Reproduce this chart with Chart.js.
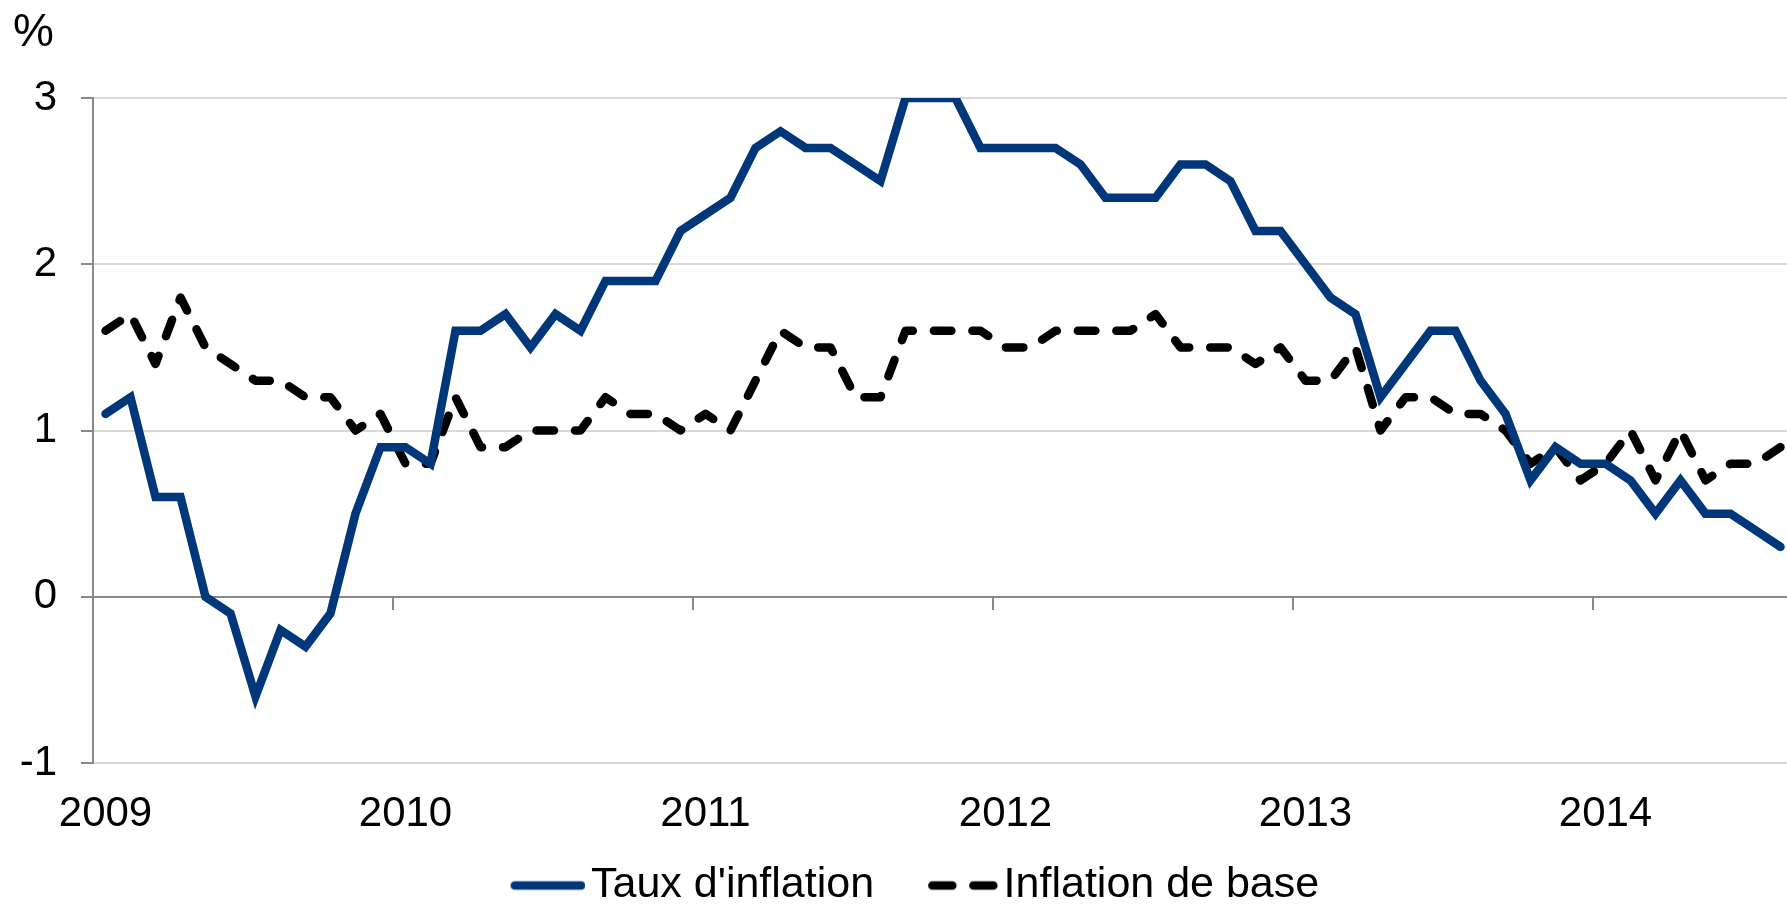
<!DOCTYPE html>
<html>
<head>
<meta charset="utf-8">
<script src="https://cdn.jsdelivr.net/npm/chart.js@4"></script>
<style>
    html, body { margin: 0; padding: 0; background: #fff; overflow: hidden; }
    #wrap { width: 1787px; height: 905px; overflow: hidden; }
</style>
</head>
<body>
<div id="wrap"><canvas id="chart" width="1793" height="905"></canvas></div>
<script>
// Monthly values, Jan 2009 - Aug 2014 (%)
const years = ['2009', '2010', '2011', '2012', '2013', '2014'];
const months = [];
years.forEach(y => {
    for (let m = 1; m <= 12; m++) months.push(y + '-' + String(m).padStart(2, '0'));
});
months.length = 68;

const inflation = [
    1.1, 1.2, 0.6, 0.6, 0.0, -0.1, -0.6, -0.2, -0.3, -0.1, 0.5, 0.9,
    0.9, 0.8, 1.6, 1.6, 1.7, 1.5, 1.7, 1.6, 1.9, 1.9, 1.9, 2.2,
    2.3, 2.4, 2.7, 2.8, 2.7, 2.7, 2.6, 2.5, 3.0, 3.0, 3.0, 2.7,
    2.7, 2.7, 2.7, 2.6, 2.4, 2.4, 2.4, 2.6, 2.6, 2.5, 2.2, 2.2,
    2.0, 1.8, 1.7, 1.2, 1.4, 1.6, 1.6, 1.3, 1.1, 0.7, 0.9, 0.8,
    0.8, 0.7, 0.5, 0.7, 0.5, 0.5, 0.4, 0.3
];

const coreInflation = [
    1.6, 1.7, 1.4, 1.8, 1.5, 1.4, 1.3, 1.3, 1.2, 1.2, 1.0, 1.1,
    0.8, 0.8, 1.2, 0.9, 0.9, 1.0, 1.0, 1.0, 1.2, 1.1, 1.1, 1.0,
    1.1, 1.0, 1.3, 1.6, 1.5, 1.5, 1.2, 1.2, 1.6, 1.6, 1.6, 1.6,
    1.5, 1.5, 1.6, 1.6, 1.6, 1.6, 1.7, 1.5, 1.5, 1.5, 1.4, 1.5,
    1.3, 1.3, 1.5, 1.0, 1.2, 1.2, 1.1, 1.1, 1.0, 0.8, 0.9, 0.7,
    0.8, 1.0, 0.7, 1.0, 0.7, 0.8, 0.8, 0.9
];

const FONT = 'Liberation Sans, Arial, sans-serif';
const axisGrey = '#898989';
const gridGrey = '#d9d9d9';
const blue = '#00377a';
const LINE_W = 8.5;

// legend swatch: transparent on the left, line sample of length `len` on the right
function swatch(len, color, dash) {
    const c = document.createElement('canvas');
    c.width = 108;
    c.height = 12;
    const g = c.getContext('2d');
    g.strokeStyle = color;
    g.lineWidth = LINE_W;
    g.lineCap = 'round';
    g.setLineDash(dash);
    g.beginPath();
    g.moveTo(c.width - len + LINE_W / 2, 6);
    g.lineTo(c.width - LINE_W / 2, 6);
    g.stroke();
    return c;
}

// "%" unit label in the top-left corner
const unitLabel = {
    id: 'unitLabel',
    afterDraw(chart) {
        const ctx = chart.ctx;
        ctx.save();
        ctx.font = '46px ' + FONT;
        ctx.fillStyle = '#000';
        ctx.textBaseline = 'alphabetic';
        ctx.fillText('%', 13, 46);
        ctx.restore();
    }
};

new Chart(document.getElementById('chart'), {
    type: 'line',
    data: {
        labels: months,
        datasets: [
            {
                label: "Taux d'inflation",
                data: inflation,
                borderColor: blue,
                backgroundColor: blue,
                borderWidth: LINE_W,
                borderCapStyle: 'round',
                borderJoinStyle: 'miter',
                pointRadius: 0,
                pointStyle: swatch(75, blue, []),
                tension: 0,
                fill: false
            },
            {
                label: 'Inflation de base',
                data: coreInflation,
                borderColor: '#000',
                backgroundColor: '#000',
                borderWidth: LINE_W,
                borderDash: [17.5, 21],
                borderCapStyle: 'round',
                borderJoinStyle: 'round',
                pointRadius: 0,
                pointStyle: swatch(70, '#000', [20, 21]),
                tension: 0,
                fill: false
            }
        ]
    },
    options: {
        responsive: false,
        animation: false,
        layout: { padding: { top: 98, left: 19.66, right: 0, bottom: 0 } },
        plugins: {
            tooltip: { enabled: false },
            legend: {
                position: 'bottom',
                maxHeight: 73,
                labels: {
                    usePointStyle: true,
                    pointStyleWidth: 76,
                    boxWidth: 76,
                    boxHeight: 12,
                    padding: 32,
                    color: '#000',
                    font: { family: FONT, size: 43 }
                }
            }
        },
        scales: {
            x: {
                type: 'category',
                offset: true,
                grid: { display: false, drawTicks: false },
                border: { display: false },
                afterFit: scale => { scale.height = 69; },
                ticks: {
                    autoSkip: false,
                    maxRotation: 0,
                    minRotation: 0,
                    padding: 12.5,
                    color: '#000',
                    font: { family: FONT, size: 42, lineHeight: 77 / 42 },
                    callback: (v, i) => (i % 12 === 0 ? years[i / 12] : '')
                }
            },
            // zero line with the year tick marks hanging below it
            xZero: {
                type: 'category',
                axis: 'x',
                position: { y: 0 },
                offset: true,
                grid: {
                    offset: true,
                    drawOnChartArea: false,
                    drawTicks: true,
                    tickLength: 12,
                    lineWidth: 2,
                    color: ctx => (ctx.index > 0 && ctx.index % 12 === 0 ? axisGrey : 'rgba(0,0,0,0)')
                },
                border: { color: axisGrey, width: 2 },
                ticks: { display: false }
            },
            y: {
                min: -1,
                max: 3,
                afterFit: scale => { scale.width = 73.34; },
                grid: {
                    color: ctx => (ctx.tick && ctx.tick.value === 0 ? axisGrey : gridGrey),
                    lineWidth: 2,
                    tickColor: axisGrey,
                    tickLength: 12
                },
                border: { color: axisGrey, width: 2 },
                ticks: {
                    stepSize: 1,
                    padding: 24,
                    color: '#000',
                    font: { family: FONT, size: 42 }
                }
            }
        }
    },
    plugins: [unitLabel]
});
</script>
</body>
</html>
